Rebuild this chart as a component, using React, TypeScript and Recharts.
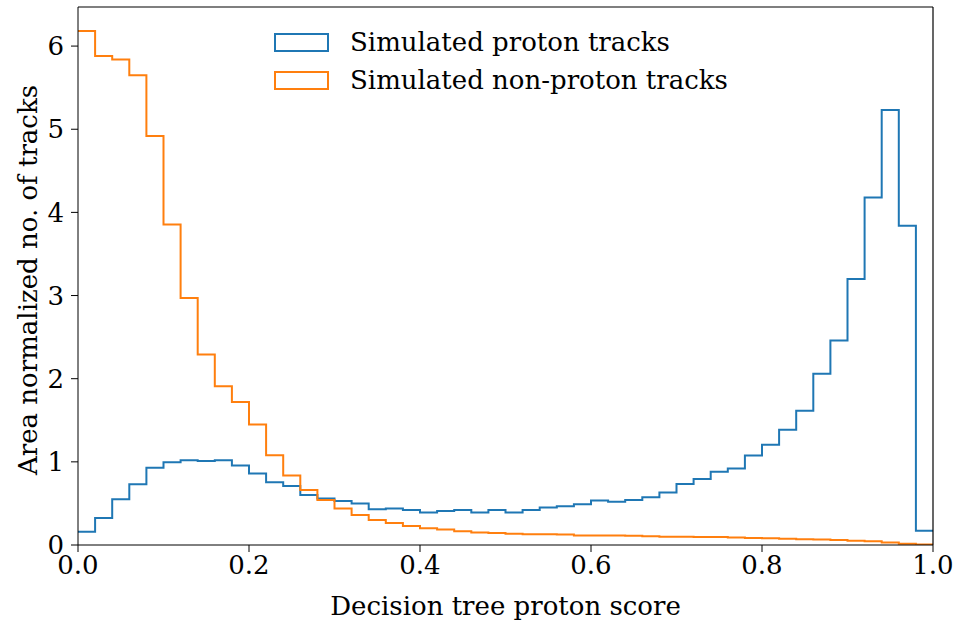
import { ComposedChart, Line, XAxis, YAxis, ReferenceLine } from 'recharts';

// histogram bins of width 0.02 over [0, 1]
const binCount = 50;
const binWidth = 0.02;

const protonHeights = [
  0.16, 0.325, 0.55, 0.73, 0.93, 0.995, 1.02, 1.01, 1.02, 0.955,
  0.86, 0.755, 0.71, 0.6, 0.56, 0.53, 0.5, 0.43, 0.44, 0.42,
  0.39, 0.41, 0.42, 0.39, 0.42, 0.39, 0.42, 0.45, 0.465, 0.49,
  0.535, 0.52, 0.54, 0.575, 0.63, 0.735, 0.795, 0.88, 0.92, 1.075,
  1.205, 1.385, 1.615, 2.06, 2.46, 3.2, 4.18, 5.23, 3.84, 0.17,
];

const nonProtonHeights = [
  6.18, 5.88, 5.84, 5.65, 4.92, 3.855, 2.97, 2.29, 1.91, 1.72,
  1.45, 1.08, 0.835, 0.66, 0.54, 0.44, 0.36, 0.3, 0.265, 0.23,
  0.2, 0.185, 0.165, 0.15, 0.145, 0.135, 0.13, 0.13, 0.125, 0.115,
  0.115, 0.115, 0.11, 0.105, 0.1, 0.1, 0.095, 0.095, 0.09, 0.085,
  0.08, 0.075, 0.07, 0.065, 0.06, 0.05, 0.045, 0.03, 0.015, 0.005,
];

const xTicks = [0, 0.2, 0.4, 0.6, 0.8, 1.0];
const yTicks = [0, 1, 2, 3, 4, 5, 6];
const yMax = 6.47;

const seriesNames = ['Simulated proton tracks', 'Simulated non-proton tracks'];
const BLUE = '#1f77b4';
const ORANGE = '#ff7f0e';
const FONT = '"DejaVu Serif", serif';
const FS = 26;

// one row per bin edge; the last edge repeats the final bin so the step closes at 1.0
const data = Array.from({ length: binCount + 1 }, (_, i) => {
  const b = Math.min(i, binCount - 1);
  return {
    x: Number((i * binWidth).toFixed(2)),
    proton: protonHeights[b],
    nonProton: nonProtonHeights[b],
  };
});

function HistLegend() {
  const items = [
    { name: seriesNames[0], color: BLUE },
    { name: seriesNames[1], color: ORANGE },
  ];
  return (
    <div style={{ position: 'absolute', left: 274, top: 23, fontFamily: FONT, fontSize: FS, lineHeight: 1 }}>
      {items.map((it) => (
        <div key={it.name} style={{ display: 'flex', alignItems: 'center', height: 38 }}>
          <span
            style={{
              display: 'inline-block',
              boxSizing: 'border-box',
              width: 55,
              height: 19,
              border: `2px solid ${it.color}`,
              marginRight: 21,
            }}
          />
          <span style={{ color: '#000', whiteSpace: 'nowrap' }}>{it.name}</span>
        </div>
      ))}
    </div>
  );
}

export default function App() {
  const tickStyle = { fontFamily: FONT, fontSize: FS, fill: '#000' };
  return (
    <div style={{ position: 'absolute', left: 0, top: 0, width: 957, height: 622, background: '#fff' }}>
      <ComposedChart
        width={957}
        height={622}
        data={data}
        margin={{ top: 7, right: 24, left: 0, bottom: 0 }}
      >
        <XAxis
          dataKey="x"
          type="number"
          domain={[0, 1]}
          ticks={xTicks}
          tickFormatter={(v: number) => v.toFixed(1)}
          allowDataOverflow
          height={77}
          stroke="#000"
          tickSize={7}
          tick={tickStyle}
          tickMargin={4}
          label={{ value: 'Decision tree proton score', position: 'insideBottom', offset: 7, style: { fontFamily: FONT, fontSize: FS, fill: '#000' } }}
        />
        <YAxis
          type="number"
          domain={[0, yMax]}
          ticks={yTicks}
          allowDataOverflow
          width={78}
          stroke="#000"
          tickSize={7}
          tick={tickStyle}
          tickMargin={7}
          label={{ value: 'Area normalized no. of tracks', angle: -90, position: 'insideLeft', offset: 28, dy: 4, style: { textAnchor: 'middle', fontFamily: FONT, fontSize: FS, fill: '#000' } }}
        />
        <Line
          type="stepAfter"
          dataKey="proton"
          name={seriesNames[0]}
          stroke={BLUE}
          strokeWidth={2}
          dot={false}
          isAnimationActive={false}
        />
        <Line
          type="stepAfter"
          dataKey="nonProton"
          name={seriesNames[1]}
          stroke={ORANGE}
          strokeWidth={2}
          dot={false}
          isAnimationActive={false}
        />
        {/* top and right spines */}
        <ReferenceLine y={yMax} stroke="#000" strokeWidth={1.2} ifOverflow="extendDomain" />
        <ReferenceLine x={1} stroke="#000" strokeWidth={1.2} />
      </ComposedChart>
      <HistLegend />
    </div>
  );
}
